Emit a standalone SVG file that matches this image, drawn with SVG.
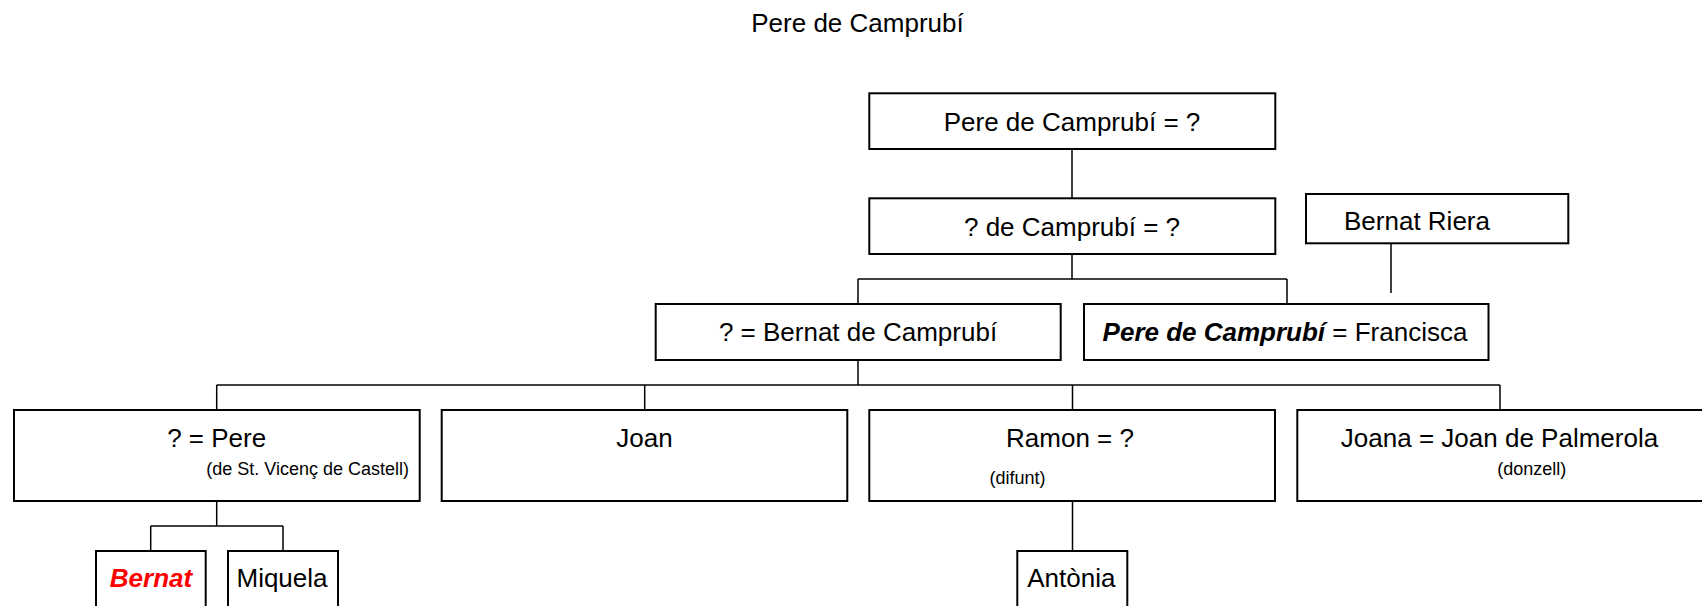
<svg xmlns="http://www.w3.org/2000/svg" width="1702" height="606" viewBox="0 0 1702 606">
<style>
.box{fill:#fff;stroke:#000;stroke-width:2}
.con{fill:none;stroke:#000;stroke-width:1.5}
text{font-family:"Liberation Sans",Arial,sans-serif;fill:#000}
.t{font-size:26px;text-anchor:middle}
.s{font-size:18px;text-anchor:middle}
.bi{font-weight:bold;font-style:italic}
.red{fill:#ff0000}
</style>
<rect width="1702" height="606" fill="#fff"/>
<text id="title" class="t" x="857.5" y="32">Pere de Camprubí</text>
<g id="connectors">
<path class="con" d="M1072,149V198 M1072,254V279 M858,279H1287 M858,279V304 M1287,279V304 M1391,243V293 M858,360V385 M216.7,385H1500 M216.7,385V410 M644.7,385V410 M1072.5,385V410 M1500,385V410 M216.7,501V526 M150.7,526H283 M150.7,526V551 M283,526V551 M1072.5,501V551"/>
</g>
<g id="n1"><rect class="box" x="869.3" y="93.3" width="406" height="55.7"/><text class="t" x="1072" y="131">Pere de Camprubí = ?</text></g>
<g id="n2"><rect class="box" x="869.3" y="198.3" width="406" height="55.7"/><text class="t" x="1072" y="236">? de Camprubí = ?</text></g>
<g id="n3"><rect class="box" x="1306" y="194" width="262.3" height="49.3"/><text x="1344" y="229.5" font-size="26">Bernat Riera</text></g>
<g id="n4"><rect class="box" x="655.7" y="304" width="405" height="56"/><text class="t" x="858" y="341">? = Bernat de Camprubí</text></g>
<g id="n5"><rect class="box" x="1084" y="304" width="404.5" height="56"/><text class="t" x="1285" y="341"><tspan class="bi">Pere de Camprubí</tspan> = Francisca</text></g>
<g id="n6"><rect class="box" x="14" y="410" width="405.7" height="91"/><text class="t" x="216.7" y="447">? = Pere</text><text class="s" x="307.7" y="475">(de St. Vicenç de Castell)</text></g>
<g id="n7"><rect class="box" x="441.7" y="410" width="405.6" height="91"/><text class="t" x="644.5" y="447">Joan</text></g>
<g id="n8"><rect class="box" x="869.3" y="410" width="405.7" height="91"/><text class="t" x="1070" y="447">Ramon = ?</text><text class="s" x="1017.5" y="484">(difunt)</text></g>
<g id="n9"><rect class="box" x="1297.3" y="410" width="405.7" height="91"/><text class="t" x="1499.5" y="447">Joana = Joan de Palmerola</text><text class="s" x="1531.7" y="475">(donzell)</text></g>
<g id="n10"><rect class="box" x="96" y="551" width="109.7" height="70"/><text class="t bi red" x="151" y="587">Bernat</text></g>
<g id="n11"><rect class="box" x="228" y="551" width="110" height="70"/><text class="t" x="282" y="587">Miquela</text></g>
<g id="n12"><rect class="box" x="1017.3" y="551" width="110" height="70"/><text class="t" x="1071.3" y="587">Antònia</text></g>
</svg>
